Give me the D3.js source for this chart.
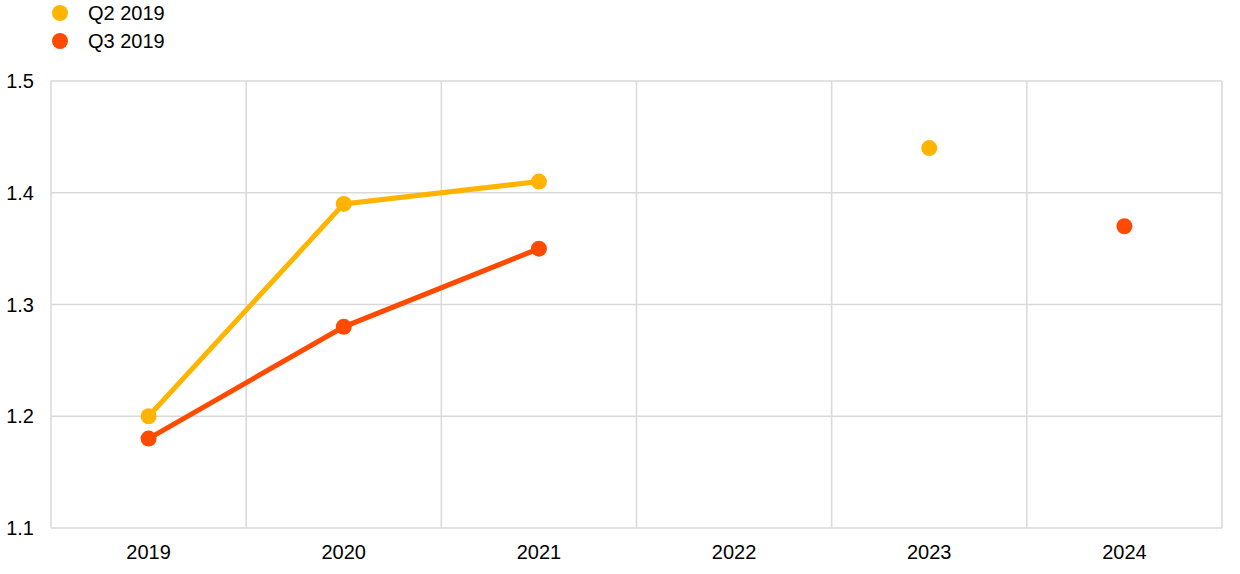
<!DOCTYPE html>
<html><head><meta charset="utf-8">
<script src="https://cdn.jsdelivr.net/npm/d3@7"></script>
<style>body{margin:0;background:#fff}svg{display:block;font-family:"Liberation Sans",Arial,sans-serif}</style>
</head><body><svg id="c" width="1240" height="574"></svg>
<script>
const categories = ["2019","2020","2021","2022","2023","2024"];
const q2 = [1.20, 1.39, 1.41, null, 1.44, null];
const q3 = [1.18, 1.28, 1.35, null, null, 1.37];
const yTicks = [1.1, 1.2, 1.3, 1.4, 1.5];
const seriesNames = ["Q2 2019", "Q3 2019"];
const colors = ["#FFB400", "#FF4B00"];

const svg = d3.select("#c");
const L = 51, R = 1222, T = 81, B = 528;
const x = d3.scaleBand().domain(categories).range([L, R]);
const y = d3.scaleLinear().domain([1.1, 1.5]).range([B, T]);
const grid = "#d9d9d9";
const fs = 20;

svg.append("g").selectAll("line").data(yTicks).join("line")
  .attr("x1", L).attr("x2", R).attr("y1", d => y(d)).attr("y2", d => y(d))
  .attr("stroke", grid).attr("stroke-width", 1.5);
const bounds = categories.map(c => x(c)).concat([R]);
svg.append("g").selectAll("line").data(bounds).join("line")
  .attr("x1", d => d).attr("x2", d => d).attr("y1", T).attr("y2", B)
  .attr("stroke", grid).attr("stroke-width", 1.5);

svg.append("g").selectAll("text").data(yTicks).join("text")
  .attr("x", 34).attr("y", d => y(d)).attr("dy", "0.35em").attr("text-anchor", "end")
  .attr("font-size", fs).attr("fill", "#000").text(d => d.toFixed(1));
svg.append("g").selectAll("text").data(categories).join("text")
  .attr("x", d => x(d) + x.bandwidth() / 2).attr("y", 559).attr("text-anchor", "middle")
  .attr("font-size", fs).attr("fill", "#000").text(d => d);

const series = [q2, q3];
series.forEach((vals, i) => {
  const pts = vals.map((v, j) => ({c: categories[j], v}));
  const line = d3.line().defined(d => d.v !== null)
    .x(d => x(d.c) + x.bandwidth() / 2).y(d => y(d.v));
  svg.append("path").datum(pts).attr("d", line).attr("fill", "none")
    .attr("stroke", colors[i]).attr("stroke-width", 5);
  svg.append("g").selectAll("circle").data(pts.filter(d => d.v !== null)).join("circle")
    .attr("cx", d => x(d.c) + x.bandwidth() / 2).attr("cy", d => y(d.v))
    .attr("r", 8).attr("fill", colors[i]);
});

const lg = svg.append("g").selectAll("g").data(seriesNames).join("g")
  .attr("transform", (d, i) => `translate(0,${13 + i * 28})`);
lg.append("circle").attr("cx", 60).attr("cy", 0).attr("r", 8).attr("fill", (d, i) => colors[i]);
lg.append("text").attr("x", 88).attr("y", 0).attr("dy", "0.35em").attr("font-size", fs).text(d => d);
</script></body></html>
